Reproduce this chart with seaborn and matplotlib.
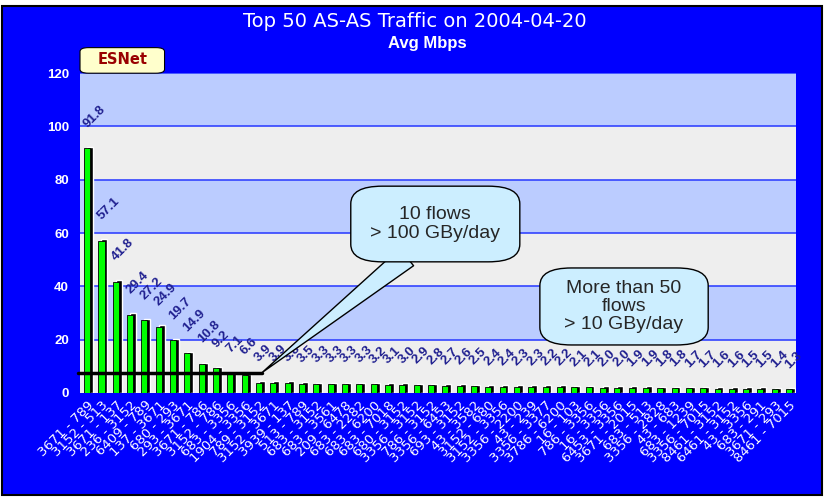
import numpy as np
import pandas as pd
import matplotlib
matplotlib.use('Agg')
import matplotlib.pyplot as plt
from matplotlib.patches import Rectangle, FancyBboxPatch
import seaborn as sns

# data (top 50 AS pairs, avg Mbps)
mbps = [91.8, 57.1, 41.8, 29.4, 27.2, 24.9, 19.7, 14.9, 10.8, 9.2, 7.1, 6.6,
        3.9, 3.9, 3.8, 3.5, 3.3, 3.3, 3.3, 3.3, 3.2, 3.1, 3.0, 2.9, 2.8, 2.7,
        2.6, 2.5, 2.4, 2.4, 2.3, 2.3, 2.2, 2.2, 2.1, 2.1, 2.0, 2.0, 1.9, 1.9,
        1.8, 1.8, 1.7, 1.7, 1.6, 1.6, 1.5, 1.5, 1.4, 1.3]
pairs = ["3671 - 789", "3152 - 513", "3671 - 137", "236 - 3152", "6409 - 789",
         "137 - 3671", "680 - 293", "293 - 3671", "3671 - 786", "3152 - 786",
         "683 - 3356", "1904 - 3356", "789 - 3152", "3152 - 3671", "3939 - 137",
         "513 - 789", "683 - 3152", "683 - 3561", "209 - 6478", "683 - 2282",
         "683 - 6200", "683 - 7018", "680 - 3152", "3356 - 3152", "786 - 3152",
         "3356 - 6453", "693 - 3152", "43 - 3582", "3152 - 680", "3152 - 3356",
         "3356 - 2200", "43 - 239", "3356 - 3377", "3786 - 6200", "16 - 103",
         "786 - 3356", "16 - 3356", "6453 - 3356", "3671 - 2015", "683 - 513",
         "3356 - 2828", "43 - 683", "683 - 1239", "3356 - 7015", "8461 - 3152",
         "6461 - 3152", "43 - 3356", "683 - 291", "3671 - 293", "8461 - 7015"]
threshold_line = 7.3
title = "Top 50 AS-AS Traffic on 2004-04-20"
subtitle = "Avg Mbps"

df = pd.DataFrame({'pair': pairs, 'mbps': mbps})

sns.set_style('white')
plt.rcParams['font.family'] = ['Liberation Sans', 'DejaVu Sans']

fig = plt.figure(figsize=(8.3, 4.98), dpi=100)
fig.patch.set_facecolor('white')
fig.patches.append(Rectangle((0.003, 0.006), 0.987, 0.982, transform=fig.transFigure,
                             facecolor='#0000FF', edgecolor='black', linewidth=1.5, zorder=-5))

ax = fig.add_axes([0.0964, 0.211, 0.863, 0.642])
ax.set_zorder(1)
ax.set_facecolor('#EEEEEE')

# alternating bands + blue grid lines
band_colors = ['#EEEEEE', '#BBCCFF']
for k, lo in enumerate(range(0, 120, 20)):
    ax.axhspan(lo, lo + 20, color=band_colors[k % 2], zorder=0, lw=0)
for g in range(20, 121, 20):
    ax.axhline(g, color='#3344FF', lw=1.2, zorder=1)

# 3D-ish shadow, then the green bars
x = np.arange(len(mbps))
ax.bar(x + 0.2, df['mbps'] + 0.6, width=0.42, color='black', zorder=2)
sns.barplot(data=df, x='pair', y='mbps', color='#00FF00', width=0.42,
            edgecolor='black', linewidth=0.6, saturation=1, ax=ax)
for p in ax.containers[-1]:
    p.set_zorder(3)

for i, v in enumerate(mbps):
    ax.text(i + 0.15, v + 7.0, f'{v:.1f}', rotation=45, rotation_mode='anchor',
            ha='left', va='bottom', fontsize=9.5, fontweight='bold', color='#202090', zorder=5)

ax.plot([-0.65, 12.2], [threshold_line, threshold_line], color='black', lw=2.5,
        zorder=6, clip_on=False)

# callout 1 with wedge pointer
ax.annotate('', xy=(12.2, threshold_line + 0.3), xytext=(22.3, 51),
            arrowprops=dict(arrowstyle='wedge,tail_width=1.6,shrink_factor=0.5',
                            fc='#CCEEFF', ec='black', lw=1, shrinkA=0, shrinkB=0), zorder=7)
ax.add_patch(FancyBboxPatch((18.4, 49.2), 11.8, 28.4, boxstyle='round,pad=0,rounding_size=2.2',
                            mutation_aspect=3.0, fc='#CCEEFF', ec='black', lw=1, zorder=8))
ax.text(24.3, 63.4, "10 flows\n> 100 GBy/day", ha='center', va='center',
        fontsize=14, zorder=9, linespacing=1.15)

# callout 2
ax.add_patch(FancyBboxPatch((31.6, 18.0), 11.75, 28.9, boxstyle='round,pad=0,rounding_size=2.2',
                            mutation_aspect=3.0, fc='#CCEEFF', ec='black', lw=1, zorder=8))
ax.text(37.45, 32.4, "More than 50\nflows\n> 10 GBy/day", ha='center', va='center',
        fontsize=14, zorder=9, linespacing=1.1)

# ESNet tab sitting on top of the plot area
ax.add_patch(FancyBboxPatch((0.0, 1.0), 0.118, 0.08, boxstyle='round,pad=0,rounding_size=0.012',
                            transform=ax.transAxes, fc='#FFFFCC', ec='black', lw=0.8,
                            clip_on=False, zorder=4))
ax.text(0.059, 1.042, "ESNet", transform=ax.transAxes, ha='center', va='center',
        color='#990000', fontsize=10.5, fontweight='bold', fontfamily='DejaVu Sans', zorder=5)

ax.set_xlim(-0.5, 49.5)
ax.set_ylim(0, 120)
ax.set_yticks(range(0, 121, 20))
ax.set_xlabel('')
ax.set_ylabel('')
ax.tick_params(axis='y', colors='white', labelsize=9.5, length=0, pad=8)
for t in ax.get_yticklabels():
    t.set_fontweight('bold')
ax.set_xticks(x)
ax.set_xticklabels(pairs, rotation=45, ha='right', rotation_mode='anchor',
                   color='white', fontsize=9.5, fontfamily='DejaVu Sans')
ax.tick_params(axis='x', length=0, pad=4)
for s in ax.spines.values():
    s.set_visible(False)

fig.text(0.5, 0.975, title, ha='center', va='top', color='white', fontsize=14,
         fontfamily='DejaVu Sans')
fig.text(0.515, 0.928, subtitle, ha='center', va='top', color='white', fontsize=12,
         fontweight='bold')

fig.savefig('out.png', dpi=100, facecolor=fig.get_facecolor())
